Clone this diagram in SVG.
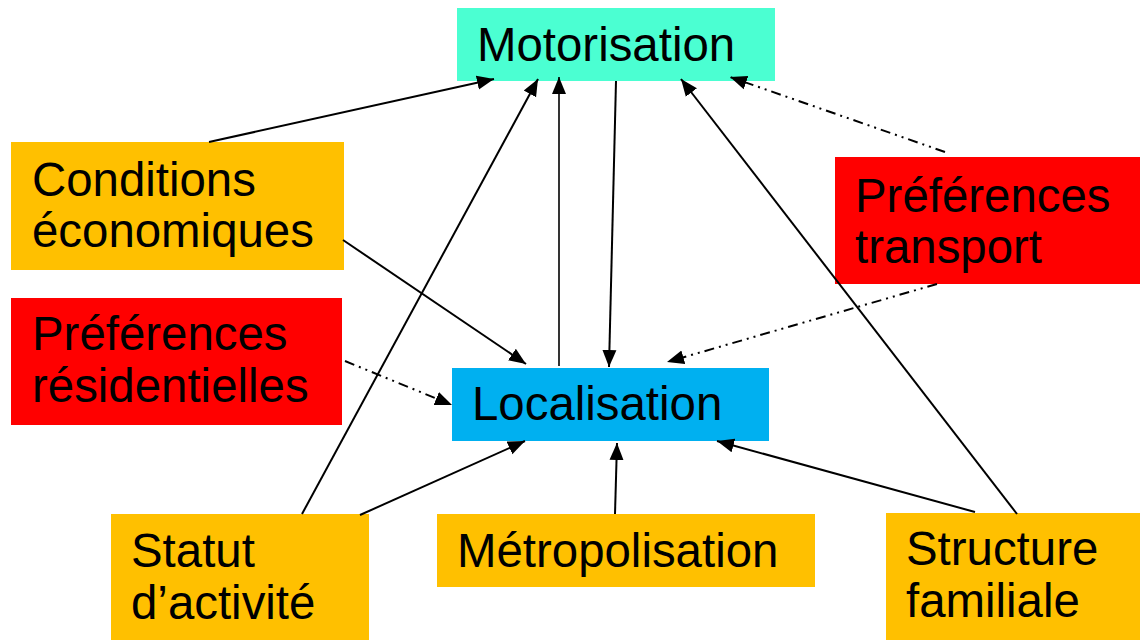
<svg xmlns="http://www.w3.org/2000/svg" width="1140" height="640" viewBox="0 0 1140 640">
<style>
text{font-family:"Liberation Sans",Arial,sans-serif;font-size:47.4px;fill:#000}
.c{stroke:#000;stroke-width:2;fill:none;marker-end:url(#ah)}
.d{stroke-dasharray:10 5 2 5 2 5}
.or{fill:#FFC000}.rd{fill:#FF0000}
</style>
<defs>
<marker id="ah" markerUnits="userSpaceOnUse" markerWidth="18" markerHeight="16" refX="17" refY="8" orient="auto">
<path d="M0,1 L17,8 L0,15 Z" fill="#000"/>
</marker>
</defs>
<rect width="1140" height="640" fill="#fff"/>
<g id="motorisation"><rect x="457" y="8" width="318" height="73" fill="#4BFFD2"/><text x="477" y="61">Motorisation</text></g>
<g id="conditions"><rect class="or" x="11" y="142" width="333" height="128"/><text x="32" y="196">Conditions</text><text x="32" y="247">économiques</text></g>
<g id="pref-res"><rect class="rd" x="11" y="298" width="331" height="127"/><text x="32" y="350">Préférences</text><text x="32" y="402">résidentielles</text></g>
<g id="pref-transport"><rect class="rd" x="835" y="157" width="305" height="127"/><text x="855" y="212">Préférences</text><text x="855" y="263">transport</text></g>
<g id="localisation"><rect x="452" y="368" width="317" height="73" fill="#00B0F0"/><text x="472" y="420">Localisation</text></g>
<g id="statut"><rect class="or" x="111" y="514" width="258" height="126"/><text x="131" y="567">Statut</text><text x="131" y="619">d’activité</text></g>
<g id="metropolisation"><rect class="or" x="437" y="514" width="378" height="73"/><text x="457" y="567">Métropolisation</text></g>
<g id="structure"><rect class="or" x="886" y="513" width="254" height="127"/><text x="906" y="565">Structure</text><text x="906" y="617">familiale</text></g>
<g id="connectors">
<line class="c" x1="209" y1="142" x2="494" y2="79"/>
<line class="c" x1="302" y1="514" x2="538" y2="79"/>
<line class="c" x1="559" y1="366" x2="559" y2="77" style="stroke-width:1.6"/>
<line class="c" x1="616" y1="81" x2="609" y2="367"/>
<line class="c" x1="1017" y1="514" x2="681" y2="79"/>
<line class="c d" x1="945" y1="152" x2="730" y2="77"/>
<line class="c" x1="343" y1="240" x2="526" y2="364"/>
<line class="c d" x1="345" y1="361" x2="452" y2="405"/>
<line class="c d" x1="937" y1="284" x2="667" y2="362"/>
<line class="c" x1="360" y1="515" x2="525" y2="441"/>
<line class="c" x1="615" y1="514" x2="617" y2="443"/>
<line class="c" x1="975" y1="512" x2="717" y2="441"/>
</g>
</svg>
